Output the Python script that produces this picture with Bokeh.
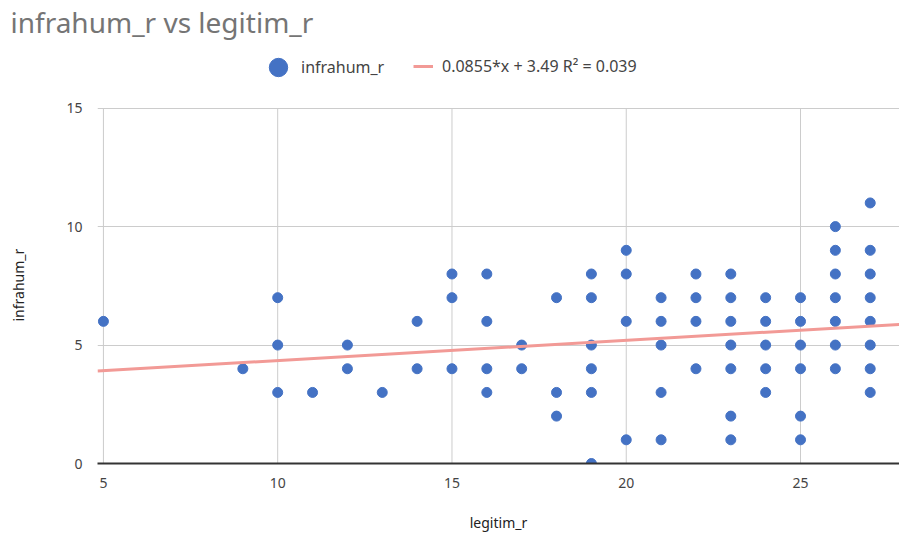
from bokeh.plotting import figure
from bokeh.models import Legend, LegendItem, Title, FixedTicker
from bokeh.embed import file_html
from bokeh.resources import INLINE

# data: legitim_r (x) -> infrahum_r (y) values
legitim_r = (
    [5] + [9] + [10] * 3 + [11] + [12] * 2 + [13] + [14] * 2 + [15] * 3 + [16] * 4 +
    [17] * 2 + [18] * 3 + [19] * 6 + [20] * 4 + [21] * 5 + [22] * 4 + [23] * 7 +
    [24] * 5 + [25] * 6 + [26] * 7 + [27] * 8 + [28] * 8
)
infrahum_r = (
    [6] + [4] + [7, 5, 3] + [3] + [5, 4] + [3] + [6, 4] + [8, 7, 4] + [8, 6, 4, 3] +
    [5, 4] + [7, 3, 2] + [8, 7, 5, 4, 3, 0] + [9, 8, 6, 1] + [7, 6, 5, 3, 1] +
    [8, 7, 6, 4] + [8, 7, 6, 5, 4, 2, 1] + [7, 6, 5, 4, 3] + [7, 6, 5, 4, 2, 1] +
    [10, 9, 8, 7, 6, 5, 4] + [11, 9, 8, 7, 6, 5, 4, 3] + [13, 9, 8, 7, 6, 5, 4, 2]
)
trend_slope = 0.0855
trend_intercept = 3.49
trend_label = "0.0855*x + 3.49 R\u00b2 = 0.039"
x_ticks = [5, 10, 15, 20, 25]
y_ticks = [0, 5, 10, 15]
y_max = 15

X0, X1 = 4.83, 27.84
TOP = 38
Y_TOP = y_max + (106 - TOP) / 23.8   # room above the grid for the legend
FONT = "Noto Sans"

p = figure(width=899, height=540, x_range=(X0, X1), y_range=(0, Y_TOP),
           output_backend="svg", toolbar_location=None, title=None,
           min_border_left=97, min_border_right=0, min_border_top=TOP,
           min_border_bottom=77)
p.outline_line_color = None
p.background_fill_color = "white"
p.border_fill_color = "white"

# vertical grid lines limited to the value range
p.segment(x0=x_ticks, y0=[0] * len(x_ticks), x1=x_ticks, y1=[y_max] * len(x_ticks),
          line_color="#cccccc", line_width=1)

pts = p.scatter(legitim_r, infrahum_r, size=10, color="#4472C4")
tx = [X0, 28.5]
ty = [trend_slope * v + trend_intercept for v in tx]
ln = p.line(tx, ty, line_color="#F29A96", line_width=3)

# axes
p.xaxis.ticker = FixedTicker(ticks=x_ticks)
p.yaxis.ticker = FixedTicker(ticks=y_ticks)
for ax in (p.xaxis[0], p.yaxis[0]):
    ax.major_tick_line_color = None
    ax.minor_tick_line_color = None
    ax.major_label_text_font = FONT
    ax.major_label_text_font_size = "14px"
    ax.major_label_text_color = "#444444"
    ax.axis_label_text_font = FONT
    ax.axis_label_text_font_size = "14px"
    ax.axis_label_text_font_style = "normal"
    ax.axis_label_text_color = "#222222"
p.xaxis.axis_line_color = "#333333"
p.xaxis.axis_line_width = 2
p.yaxis.axis_line_color = None
p.xaxis.axis_label = "legitim_r"
p.xaxis.major_label_standoff = 8
p.xaxis.axis_label_standoff = 22
p.yaxis.major_label_standoff = 9
p.yaxis.axis_label = " "
p.yaxis.axis_label_standoff = 9

p.xgrid.visible = False
p.ygrid.grid_line_color = "#cccccc"

ytitle = Title(text="infrahum_r", align="left", offset=142,
               text_font=FONT, text_font_size="14px", text_font_style="normal",
               text_color="#222222", standoff=10)
p.add_layout(ytitle, "left")

legend1 = Legend(items=[LegendItem(label="infrahum_r", renderers=[pts])],
                 orientation="horizontal", location=(158, 371),
                 border_line_color=None, background_fill_alpha=0,
                 label_text_font=FONT, label_text_font_size="16px",
                 label_text_color="#444444", padding=0,
                 glyph_width=46, glyph_height=50, label_standoff=0, margin=0)
legend2 = Legend(items=[LegendItem(label=trend_label, renderers=[ln])],
                 orientation="horizontal", location=(316, 386),
                 border_line_color=None, background_fill_alpha=0,
                 label_text_font=FONT, label_text_font_size="16px",
                 label_text_color="#444444", padding=0,
                 glyph_width=20, glyph_height=20, label_standoff=9, margin=0)
p.add_layout(legend1, "center")
p.add_layout(legend2, "center")

title = Title(text="infrahum_r vs legitim_r", align="left", offset=-87,
              text_font=FONT, text_font_size="28px", text_font_style="normal",
              text_color="#757575", standoff=0)
p.add_layout(title, "above")

open("out.html", "w").write(file_html(p, INLINE))
